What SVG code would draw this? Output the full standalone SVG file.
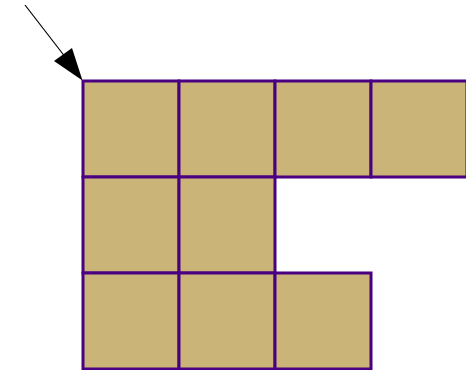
<svg xmlns="http://www.w3.org/2000/svg" width="466" height="370" viewBox="0 0 466 370">
<defs>
<style>
.cell{fill:#CAB478;stroke:#4B0082;stroke-width:3}
.conn{stroke:#000;stroke-width:1.2;fill:none}
</style>
</defs>
<rect width="466" height="370" fill="#fff"/>
<g id="c00"><rect class="cell" x="83" y="81" width="96" height="96"/></g>
<g id="c01"><rect class="cell" x="179" y="81" width="96" height="96"/></g>
<g id="c02"><rect class="cell" x="275" y="81" width="96" height="96"/></g>
<g id="c03"><rect class="cell" x="371" y="81" width="96" height="96"/></g>
<g id="c10"><rect class="cell" x="83" y="177" width="96" height="96"/></g>
<g id="c11"><rect class="cell" x="179" y="177" width="96" height="96"/></g>
<g id="c20"><rect class="cell" x="83" y="273" width="96" height="96"/></g>
<g id="c21"><rect class="cell" x="179" y="273" width="96" height="96"/></g>
<g id="c22"><rect class="cell" x="275" y="273" width="96" height="96"/></g>
<g id="connectors">
<line class="conn" x1="25" y1="5" x2="66" y2="58"/>
<polygon points="82.5,80.5 54,61 72,48" fill="#000"/>
</g>
</svg>
